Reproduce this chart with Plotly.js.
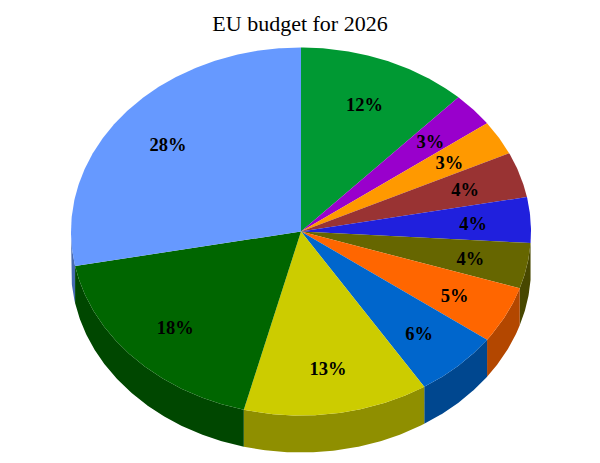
<!DOCTYPE html>
<html>
<head>
<meta charset="utf-8">
<script src="https://cdn.plot.ly/plotly-3.0.1.min.js"></script>
<style>html,body{margin:0;padding:0;background:#fff}#chart{width:600px;height:463px}</style>
</head>
<body>
<div id="chart"></div>
<script>
// Data: clockwise from 12 o'clock
const shares = [12, 3, 3, 4, 4, 4, 5, 6, 13, 18, 28];
const topColors = ['#009933','#9900cc','#ff9900','#993333','#2020dd','#666600','#ff6600','#0066cc','#cccc00','#006600','#6699ff'];
const chartTitle = 'EU budget for 2026';

// Projection of the tilted disc, in axis units
const cx = 301, cy = 231.5, rx = 230, ry = 184, depth = 37, labelFrac = 0.75, labelDrop = 3;
const shade = 0.7;

function darken(hex) {
  const n = parseInt(hex.slice(1), 16);
  const c = [n >> 16, (n >> 8) & 255, n & 255].map(v => Math.round(v * shade));
  return 'rgb(' + c.join(',') + ')';
}
function pt(deg, dy) {
  const a = deg * Math.PI / 180;
  return [cx + rx * Math.sin(a), cy - ry * Math.cos(a) + dy];
}
function arc(a0, a1, dy) {
  const n = Math.max(2, Math.ceil(Math.abs(a1 - a0) * 2));
  const out = [];
  for (let i = 0; i <= n; i++) out.push(pt(a0 + (a1 - a0) * i / n, dy));
  return out;
}
function poly(points, color) {
  points = points.concat([points[0]]);
  return {
    type: 'scatter', mode: 'lines', fill: 'toself', fillcolor: color,
    x: points.map(p => p[0]), y: points.map(p => p[1]),
    line: {width: 0, color: color}, hoverinfo: 'skip', showlegend: false
  };
}

const total = shares.reduce((s, v) => s + v, 0);
const walls = [], tops = [], lx = [], ly = [], lt = [];
let run = 0;
shares.forEach((v, i) => {
  const a0 = run / total * 360, a1 = (run + v) / total * 360;
  run += v;
  const w0 = Math.max(a0, 90), w1 = Math.min(a1, 270);
  if (w1 > w0) {
    walls.push(poly(arc(w0, w1, 0).concat(arc(w1, w0, depth)), darken(topColors[i])));
  }
  tops.push(poly([[cx, cy]].concat(arc(a0, a1, 0)), topColors[i]));
  const mid = (a0 + a1) / 2 * Math.PI / 180;
  lx.push(cx + labelFrac * rx * Math.sin(mid));
  ly.push(cy - labelFrac * ry * Math.cos(mid) + labelDrop);
  lt.push(Math.round(v) + '%');
});

const labels = {
  type: 'scatter', mode: 'text', x: lx, y: ly, text: lt, textposition: 'middle center',
  textfont: {family: '"Liberation Serif", serif', size: 18.5, color: '#000', weight: 'bold'},
  hoverinfo: 'skip', showlegend: false
};

const hidden = {visible: false, fixedrange: true};
Plotly.newPlot('chart', walls.concat(tops, [labels]), {
  width: 600, height: 463,
  margin: {l: 0, r: 0, t: 0, b: 0},
  paper_bgcolor: '#fff', plot_bgcolor: '#fff',
  title: {text: chartTitle, x: 0.5, xanchor: 'center', y: 0.95, yanchor: 'middle',
          font: {family: '"Liberation Serif", serif', size: 22, color: '#000'}},
  xaxis: Object.assign({range: [0, 600]}, hidden),
  yaxis: Object.assign({range: [463, 0]}, hidden),
  showlegend: false
}, {displayModeBar: false, staticPlot: true});
</script>
</body>
</html>
